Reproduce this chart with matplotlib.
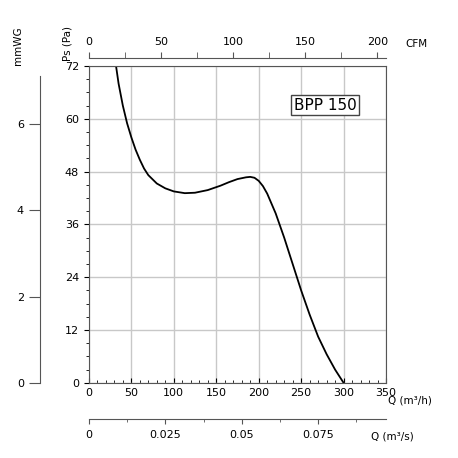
import numpy as np
import matplotlib.pyplot as plt
from matplotlib.ticker import MultipleLocator

# fan curve: Q in m3/h, Ps in Pa
q = [32, 35, 40, 45, 50, 55, 60, 65, 70, 80, 90, 100, 113, 125, 140, 155, 165, 175, 185, 190, 195, 200, 205, 210, 220, 230, 240, 250, 260, 270, 280, 290, 300]
ps = [72, 68, 63, 59, 55.8, 53, 50.7, 48.7, 47.2, 45.3, 44.2, 43.5, 43.1, 43.2, 43.8, 44.8, 45.6, 46.3, 46.7, 46.8, 46.6, 45.9, 44.7, 43, 38.5, 33, 27, 21, 15.5, 10.5, 6.5, 3, 0]
label = "BPP 150"

fig = plt.figure(figsize=(4.58, 4.58), dpi=100)
ax = fig.add_axes([0.194, 0.164, 0.649, 0.692])
ax.plot(q, ps, color="black", lw=1.3)
ax.set_xlim(0, 350)
ax.set_ylim(0, 72)
ax.set_xticks(range(0, 351, 50))
ax.set_yticks(range(0, 73, 12))
ax.xaxis.set_minor_locator(MultipleLocator(10))
ax.yaxis.set_minor_locator(MultipleLocator(3))
ax.grid(True, color="#c8c8c8", lw=1)
ax.tick_params(axis="x", which="both", direction="in", labelsize=8)
ax.tick_params(axis="y", which="both", labelsize=8)
for s in ax.spines.values():
    s.set_color("#555555")
ax.text(0.90, 0.90, label, transform=ax.transAxes, ha="right", va="top", fontsize=11,
        bbox=dict(facecolor="white", edgecolor="#444444", pad=2))
ax.text(352, -4, "Q (m³/h)", fontsize=7.5, ha="left", va="center")

# CFM axis on top
cfm = fig.add_axes([0.194, 0.873, 0.649, 0.001])
cfm.set_xlim(0, 350 / 1.699)
cfm.set_xticks(range(0, 201, 50))
cfm.xaxis.set_minor_locator(MultipleLocator(25))
cfm.xaxis.tick_top()
cfm.set_yticks([])
for k in ["left", "right", "bottom"]:
    cfm.spines[k].set_visible(False)
cfm.tick_params(which="both", labelsize=8, length=4, color="#555555")
cfm.spines["top"].set_color("#555555")
fig.text(0.885, 0.905, "CFM", fontsize=7.5, va="center")

# m3/s axis at the bottom
qs = fig.add_axes([0.194, 0.085, 0.649, 0.001])
qs.set_xlim(0, 350 / 3600)
qs.set_xticks([0, 0.025, 0.05, 0.075])
qs.set_xticklabels(["0", "0.025", "0.05", "0.075"])
qs.xaxis.set_minor_locator(MultipleLocator(0.0125))
qs.xaxis.tick_top()
qs.set_yticks([])
for k in ["left", "right", "bottom"]:
    qs.spines[k].set_visible(False)
qs.spines["top"].set_color("#555555")
qs.tick_params(which="both", direction="in", labeltop=False, labelbottom=True, labelsize=8, pad=8, color="#555555")
fig.text(0.81, 0.048, "Q (m³/s)", fontsize=7.5, va="center")

# mmWG axis on the left
mm = fig.add_axes([0.087, 0.164, 0.001, 0.692])
mm.set_ylim(0, 72 / 9.80665)
mm.set_yticks([0, 2, 4, 6])
mm.set_xticks([])
for k in ["top", "right", "bottom"]:
    mm.spines[k].set_visible(False)
mm.spines["left"].set_bounds(0, 7.1)
mm.spines["left"].set_color("#555555")
mm.tick_params(labelsize=8, length=8, color="#555555")

fig.text(0.04, 0.9, "mmWG", rotation=90, fontsize=7.5, ha="center", va="center")
fig.text(0.148, 0.905, "Ps (Pa)", rotation=90, fontsize=7.5, ha="center", va="center")

fig.savefig("out.png", dpi=100)
